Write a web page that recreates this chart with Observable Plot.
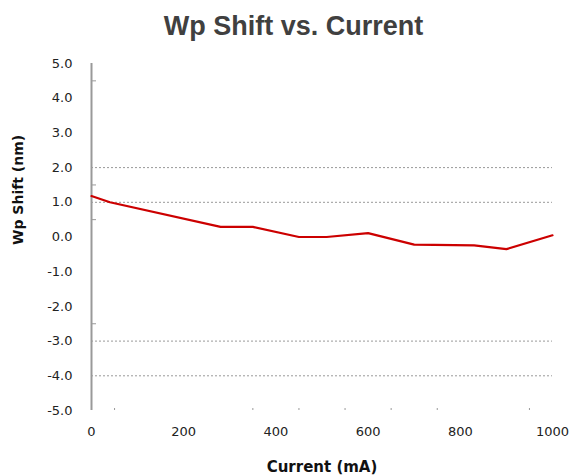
<!DOCTYPE html>
<html><head><meta charset="utf-8">
<script src="https://cdn.jsdelivr.net/npm/d3@7"></script>
<script src="https://cdn.jsdelivr.net/npm/@observablehq/plot@0.6"></script>
<style>
body{margin:0;background:#fff;}
#title{width:571px;height:48px;box-sizing:border-box;padding:5px 0 0 16px;line-height:43px;text-align:center;font-family:"Liberation Sans",Arial,sans-serif;font-weight:bold;font-size:27px;color:#404040;}
</style>
</head><body>
<div id="title">Wp Shift vs. Current</div>
<div id="chart"></div>
<script>
const currentMA = [0, 40, 280, 350, 450, 510, 600, 700, 830, 900, 1000];
const wpShiftNm = [1.18, 1.0, 0.29, 0.29, 0.0, 0.0, 0.11, -0.22, -0.24, -0.35, 0.05];
const yTicks = [5, 4, 3, 2, 1, 0, -1, -2, -3, -4, -5];
const xTicks = [0, 200, 400, 600, 800, 1000];
const yMinorTicks = [4.5, 1.5, 0.5, -2.5];
const xMinorTicks = [50, 350, 450, 550, 650, 750, 950];
const gridY = [2, 1, -3, -4];

const data = currentMA.map((c, i) => ({current: c, shift: wpShiftNm[i]}));

const chart = Plot.plot({
  width: 571, height: 427,
  marginTop: 15, marginBottom: 65, marginLeft: 91, marginRight: 19,
  x: {domain: [0, 1000]},
  y: {domain: [-5, 5]},
  style: {fontFamily: "DejaVu Sans", fontSize: "13px", background: "white", color: "#222"},
  marks: [
    Plot.ruleY(gridY, {stroke: "#999", strokeDasharray: "2,2", strokeWidth: 1}),
    Plot.axisY(yTicks, {tickSize: 0, tickPadding: 19, tickFormat: d => d.toFixed(1), label: null}),
    Plot.axisY(yMinorTicks, {tickSize: 5, dx: 5, tickFormat: () => "", label: null, stroke: "#999"}),
    Plot.axisX(xTicks, {tickSize: 0, tickPadding: 16, tickFormat: d => String(d), label: null}),
    Plot.axisX(xMinorTicks, {tickSize: 2, dy: -2, tickFormat: () => "", label: null, stroke: "#999"}),
    Plot.ruleX([0], {stroke: "#999", strokeWidth: 2}),
    Plot.line(data, {x: "current", y: "shift", stroke: "#cc0000", strokeWidth: 2.2}),
    Plot.text(["Current (mA)"], {text: d => d, frameAnchor: "bottom", dy: 61, fontWeight: "bold", fontSize: 15, fill: "#111"}),
    Plot.text(["Wp Shift (nm)"], {text: d => d, frameAnchor: "left", dx: -73, dy: 8, rotate: -90, fontWeight: "bold", fontSize: 14, fill: "#111"})
  ]
});
document.getElementById("chart").appendChild(chart);
</script>
</body></html>
